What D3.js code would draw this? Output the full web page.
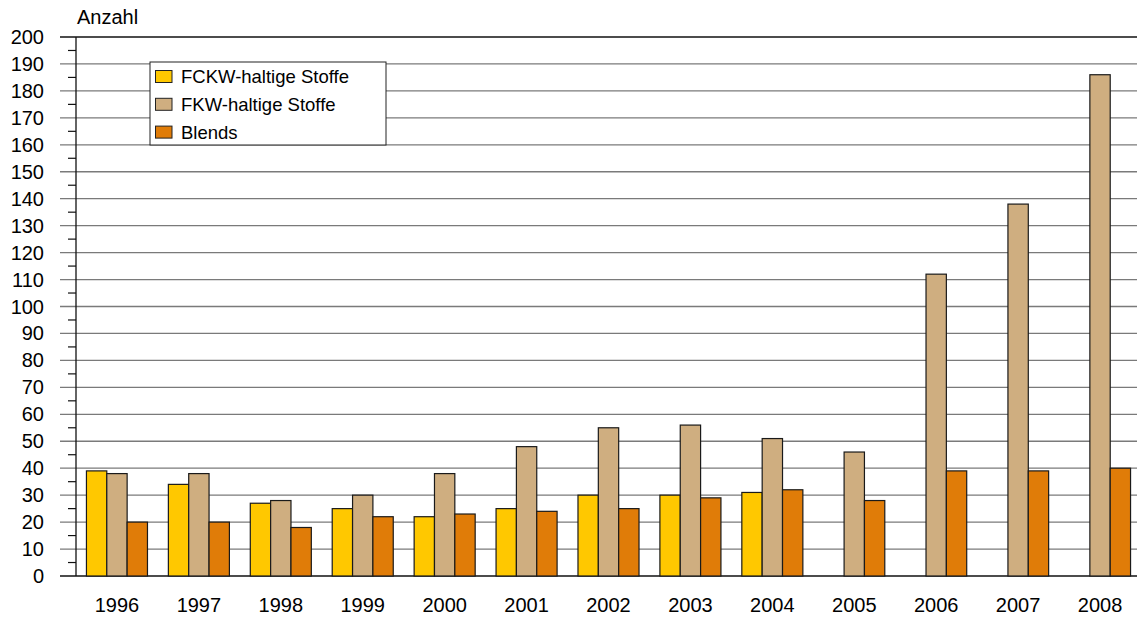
<!DOCTYPE html>
<html>
<head>
<meta charset="utf-8">
<script src="https://cdn.jsdelivr.net/npm/d3@7"></script>
<style>
  body { margin: 0; background: #fff; }
  svg { display: block; font-family: "Liberation Sans", Arial, sans-serif; }
</style>
</head>
<body>
<div id="chart"></div>
<script>
// Daten
const years = ["1996", "1997", "1998", "1999", "2000", "2001", "2002", "2003", "2004", "2005", "2006", "2007", "2008"];
const seriesNames = ["FCKW-haltige Stoffe", "FKW-haltige Stoffe", "Blends"];
const fckw = [39, 34, 27, 25, 22, 25, 30, 30, 31, 0, 0, 0, 0];
const fkw = [38, 38, 28, 30, 38, 48, 55, 56, 51, 46, 112, 138, 186];
const blends = [20, 20, 18, 22, 23, 24, 25, 29, 32, 28, 39, 39, 40];
const yTicks = d3.range(0, 201, 10);
const colors = ["#FFC800", "#CFAE80", "#E07C08"];

const seriesValues = [fckw, fkw, blends];
const rows = years.map((y, i) => ({ year: y, values: seriesValues.map(s => s[i]) }));

const W = 1137, H = 618;
const margin = { top: 37, right: -4, bottom: 42, left: 76 };
const width = W - margin.left - margin.right;
const height = H - margin.top - margin.bottom;

const svg = d3.select("#chart").append("svg")
    .attr("width", W)
    .attr("height", H);

const g = svg.append("g")
    .attr("transform", `translate(${margin.left},${margin.top})`);

// Skalen
const x = d3.scaleBand().domain(years).range([0, width]).paddingInner(0.255).paddingOuter(0.1275);
const x1 = d3.scaleBand().domain(d3.range(3)).range([0, x.bandwidth()]);
const y = d3.scaleLinear().domain([0, 200]).range([height, 0]);

// Gitterlinien
g.selectAll("line.grid")
    .data(yTicks)
    .enter()
    .append("line")
    .attr("class", "grid")
    .attr("x1", -16)
    .attr("x2", width + 10)
    .attr("y1", d => y(d))
    .attr("y2", d => y(d))
    .attr("stroke", d => d === 200 || d === 0 ? "#111" : "#7a7a7a")
    .attr("stroke-width", 1.3);

// Kleine Striche
g.selectAll("line.minor")
    .data(d3.range(5, 200, 10))
    .enter()
    .append("line")
    .attr("x1", -8)
    .attr("x2", 0)
    .attr("y1", d => y(d))
    .attr("y2", d => y(d))
    .attr("stroke", "#111")
    .attr("stroke-width", 1.2);

// Y-Achse
g.append("line")
    .attr("x1", 0).attr("x2", 0)
    .attr("y1", 0).attr("y2", height)
    .attr("stroke", "#111")
    .attr("stroke-width", 1.3);

g.selectAll("text.ytick")
    .data(yTicks)
    .enter()
    .append("text")
    .attr("x", -32)
    .attr("y", d => y(d))
    .attr("dy", "0.35em")
    .attr("text-anchor", "end")
    .attr("font-size", 20)
    .attr("fill", "#000")
    .text(d => d);

g.append("text")
    .attr("x", 1)
    .attr("y", -13)
    .attr("font-size", 20)
    .attr("fill", "#000")
    .text("Anzahl");

// Balken
const groups = g.selectAll("g.year")
    .data(rows)
    .enter()
    .append("g")
    .attr("transform", d => `translate(${x(d.year)},0)`);

groups.selectAll("rect")
    .data(d => d.values.map((v, i) => ({ i, v })))
    .enter()
    .append("rect")
    .attr("x", d => x1(d.i))
    .attr("y", d => y(d.v))
    .attr("width", x1.bandwidth())
    .attr("height", d => height - y(d.v))
    .attr("fill", d => colors[d.i])
    .attr("stroke", "#1a1a1a")
    .attr("stroke-width", 1.2);

// X-Beschriftung
g.selectAll("text.xtick")
    .data(years)
    .enter()
    .append("text")
    .attr("x", d => x(d) + x.bandwidth() / 2)
    .attr("y", height + 36)
    .attr("text-anchor", "middle")
    .attr("font-size", 20)
    .attr("fill", "#000")
    .text(d => d);

// Legende
const legend = svg.append("g").attr("transform", "translate(150,62)");
legend.append("rect")
    .attr("width", 236)
    .attr("height", 83)
    .attr("fill", "#fff")
    .attr("stroke", "#222")
    .attr("stroke-width", 1);

seriesNames.forEach((name, i) => {
    const row = legend.append("g").attr("transform", `translate(5,${14.5 + i * 27.8})`);
    row.append("rect")
        .attr("x", 0.5)
        .attr("y", -6)
        .attr("width", 16.5)
        .attr("height", 12)
        .attr("fill", colors[i])
        .attr("stroke", "#222")
        .attr("stroke-width", 1);
    row.append("text")
        .attr("x", 26)
        .attr("y", 0)
        .attr("dy", "0.35em")
        .attr("font-size", 18.5)
        .attr("fill", "#000")
        .text(name);
});
</script>
</body>
</html>
